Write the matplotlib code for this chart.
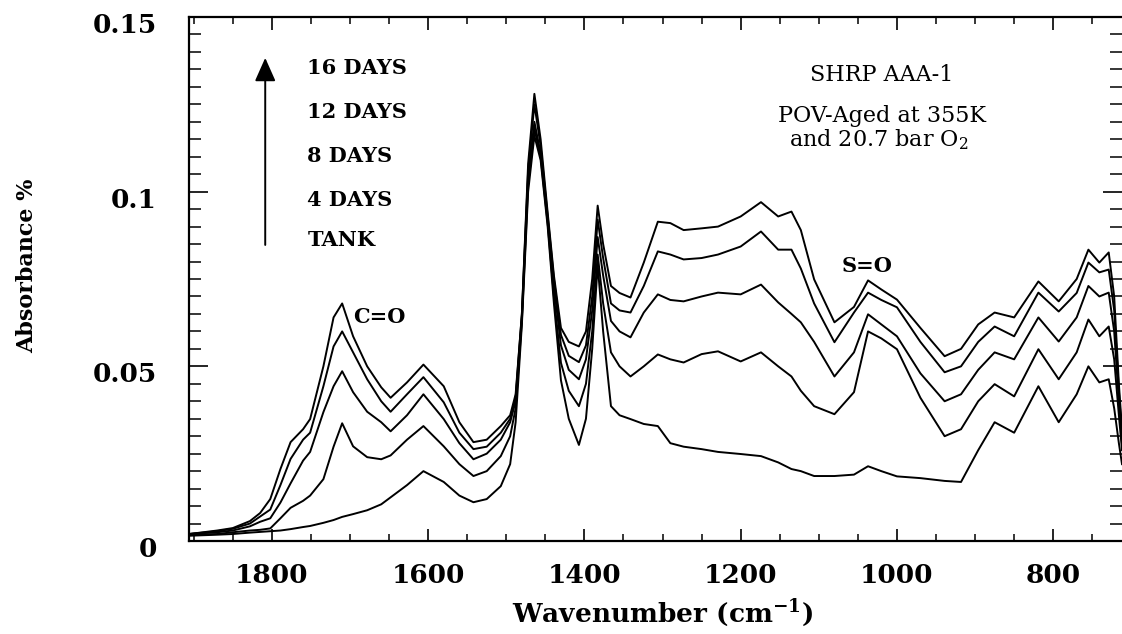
import matplotlib
matplotlib.use("Agg")
import matplotlib.pyplot as plt
from matplotlib.ticker import MultipleLocator
from matplotlib.transforms import ScaledTranslation

plt.rcParams['font.family'] = ['DejaVu Serif']
plt.rcParams['mathtext.fontset'] = 'dejavuserif'

# wavenumber grid (cm-1)
wavenumber = [1906, 1870, 1850, 1828, 1815, 1802, 1789, 1776, 1760, 1751,
              1734, 1721, 1710, 1696, 1678, 1660, 1648, 1627, 1606, 1580,
              1560, 1542, 1525, 1507, 1495, 1488, 1480, 1472, 1464, 1456,
              1447, 1439, 1430, 1420, 1407, 1398, 1390, 1383, 1376, 1366,
              1355, 1341, 1324, 1306, 1290, 1273, 1250, 1229, 1200, 1174,
              1152, 1135, 1123, 1106, 1080, 1055, 1037, 1020, 1000, 970,
              939, 918, 896, 875, 850, 819, 793, 770, 755, 741,
              729, 722, 716, 712]

days16 = [0.002, 0.003, 0.0037, 0.0057, 0.008, 0.012, 0.0206, 0.0283, 0.032, 0.0349,
          0.050, 0.064, 0.068, 0.0586, 0.050, 0.044, 0.041, 0.0454, 0.0505, 0.0443,
          0.034, 0.0283, 0.029, 0.0329, 0.036, 0.042, 0.065, 0.108, 0.128, 0.115,
          0.094, 0.076, 0.061, 0.057, 0.0557, 0.060, 0.075, 0.096, 0.085, 0.073,
          0.071, 0.0697, 0.0797, 0.0914, 0.091, 0.089, 0.0895, 0.090, 0.0929, 0.097,
          0.0929, 0.0943, 0.089, 0.0749, 0.0626, 0.067, 0.0746, 0.072, 0.0691, 0.061,
          0.0529, 0.055, 0.062, 0.0654, 0.064, 0.0743, 0.0686, 0.075, 0.0834, 0.0797,
          0.0826, 0.070, 0.045, 0.032]

days12 = [0.002, 0.0028, 0.0035, 0.005, 0.007, 0.009, 0.016, 0.0235, 0.029, 0.031,
          0.0443, 0.0557, 0.060, 0.054, 0.0463, 0.040, 0.037, 0.042, 0.0469, 0.0397,
          0.031, 0.0263, 0.027, 0.031, 0.035, 0.041, 0.065, 0.106, 0.125, 0.113,
          0.093, 0.075, 0.059, 0.053, 0.0512, 0.056, 0.070, 0.092, 0.081, 0.068,
          0.066, 0.0654, 0.073, 0.0829, 0.082, 0.0806, 0.081, 0.082, 0.0843, 0.0886,
          0.0834, 0.0834, 0.078, 0.068, 0.0569, 0.0654, 0.0711, 0.069, 0.0669, 0.057,
          0.0483, 0.050, 0.057, 0.0614, 0.0586, 0.0711, 0.0657, 0.071, 0.0797, 0.0769,
          0.0777, 0.066, 0.043, 0.030]

days8 = [0.002, 0.0025, 0.003, 0.0042, 0.0055, 0.0065, 0.011, 0.0165, 0.023, 0.0255,
         0.0369, 0.0443, 0.0486, 0.0426, 0.037, 0.034, 0.0314, 0.036, 0.042, 0.0349,
         0.028, 0.0234, 0.025, 0.029, 0.034, 0.040, 0.064, 0.104, 0.120, 0.111,
         0.092, 0.073, 0.056, 0.049, 0.0463, 0.052, 0.066, 0.087, 0.076, 0.063,
         0.060, 0.0583, 0.0654, 0.0706, 0.069, 0.0686, 0.070, 0.0711, 0.0706, 0.0734,
         0.0683, 0.065, 0.0626, 0.057, 0.0471, 0.054, 0.0649, 0.062, 0.0586, 0.048,
         0.040, 0.042, 0.049, 0.054, 0.052, 0.064, 0.0571, 0.064, 0.073, 0.070,
         0.0711, 0.060, 0.040, 0.028]

days4 = [0.0018, 0.002, 0.0025, 0.003, 0.0032, 0.0036, 0.0065, 0.0095, 0.0115, 0.013,
         0.0177, 0.027, 0.0337, 0.0271, 0.024, 0.0234, 0.0245, 0.029, 0.0329, 0.0271,
         0.022, 0.0186, 0.020, 0.0243, 0.030, 0.038, 0.063, 0.102, 0.118, 0.110,
         0.091, 0.070, 0.051, 0.043, 0.0386, 0.045, 0.060, 0.082, 0.068, 0.054,
         0.050, 0.0471, 0.050, 0.0534, 0.052, 0.0511, 0.0535, 0.0543, 0.0514, 0.054,
         0.050, 0.0471, 0.043, 0.0386, 0.0363, 0.0426, 0.060, 0.058, 0.0549, 0.041,
         0.030, 0.032, 0.040, 0.0449, 0.0414, 0.0549, 0.0463, 0.054, 0.0634, 0.0586,
         0.0614, 0.052, 0.036, 0.026]

tank = [0.0015, 0.0018, 0.002, 0.0024, 0.0026, 0.0028, 0.003, 0.0034, 0.004, 0.0043,
        0.0052, 0.006, 0.0069, 0.0077, 0.0088, 0.0105, 0.0125, 0.016, 0.020, 0.0169,
        0.013, 0.0111, 0.012, 0.0157, 0.022, 0.034, 0.062, 0.100, 0.116, 0.109,
        0.090, 0.068, 0.046, 0.035, 0.0275, 0.035, 0.055, 0.079, 0.060, 0.0386,
        0.036, 0.0349, 0.0335, 0.0329, 0.028, 0.027, 0.0263, 0.0255, 0.0249, 0.0243,
        0.0225, 0.0206, 0.020, 0.0186, 0.0186, 0.019, 0.0214, 0.020, 0.0185, 0.018,
        0.0172, 0.0169, 0.026, 0.034, 0.031, 0.0443, 0.034, 0.042, 0.050, 0.0454,
        0.0463, 0.038, 0.028, 0.022]

day_labels = ["16 DAYS", "12 DAYS", "8 DAYS", "4 DAYS", "TANK"]

fig = plt.figure(figsize=(11.22, 6.34), dpi=100)
ax = fig.add_axes([189 / 1122, 93 / 634, 933 / 1122, 524 / 634])

for series in [days16, days12, days8, days4, tank]:
    ax.plot(wavenumber, series, color='black', lw=1.4)

ax.set_xlim(1906, 712)
ax.set_ylim(0, 0.15)

# ticks: inward, on all four sides
ax.xaxis.set_major_locator(MultipleLocator(200))
ax.xaxis.set_minor_locator(MultipleLocator(50))
ax.yaxis.set_minor_locator(MultipleLocator(0.005))
ax.set_yticks([0, 0.05, 0.1, 0.15])
ax.set_yticklabels(["0", "0.05", "0.1", "0.15"])
ax.tick_params(axis='x', which='major', direction='in', length=9, width=1.2,
               top=True, pad=16, labelsize=19)
ax.tick_params(axis='x', which='minor', direction='in', length=5, width=1.1, top=True)
ax.tick_params(axis='y', which='major', direction='in', length=14, width=1.2,
               right=True, pad=23, labelsize=19)
ax.tick_params(axis='y', which='minor', direction='in', length=8.5, width=1.1, right=True)
for lab in ax.get_xticklabels() + ax.get_yticklabels():
    lab.set_fontweight('bold')
shift = ScaledTranslation(0, -6 / 100, fig.dpi_scale_trans)
for lab in ax.get_yticklabels():
    lab.set_transform(lab.get_transform() + shift)

for side in ['left', 'bottom', 'top']:
    ax.spines[side].set_linewidth(1.6)
ax.spines['right'].set_visible(False)

ax.set_xlabel(r"Wavenumber (cm$^{\mathbf{-1}}$)", fontsize=19, fontweight='bold', va='center')
ax.xaxis.set_label_coords(0.508, -0.137)
ax.set_ylabel("Absorbance %", fontsize=16, fontweight='bold', va='center')
ax.yaxis.set_label_coords(-0.173, 0.525)

# ageing legend with arrow
label_y = [0.903, 0.819, 0.735, 0.651, 0.574]
for txt, yy in zip(day_labels, label_y):
    ax.text(0.127, yy, txt, transform=ax.transAxes, fontsize=15,
            fontweight='bold', ha='left', va='center')
ax.annotate('', xy=(0.0817, 0.922), xytext=(0.0817, 0.565),
            xycoords='axes fraction', textcoords='axes fraction',
            arrowprops=dict(arrowstyle='-|>,head_length=0.45,head_width=0.2',
                            color='black', lw=1.4, mutation_scale=32,
                            shrinkA=0, shrinkB=0))

ax.text(0.742, 0.889, "SHRP AAA-1", transform=ax.transAxes, fontsize=16,
        ha='center', va='center')
ax.text(0.743, 0.811, "POV-Aged at 355K", transform=ax.transAxes, fontsize=16,
        ha='center', va='center')
ax.text(0.739, 0.765, r"and 20.7 bar O$_{\mathrm{2}}$", transform=ax.transAxes,
        fontsize=16, ha='center', va='center')

ax.text(1696, 0.064, "C=O", fontsize=15, fontweight='bold', ha='left', va='center')
ax.text(1071, 0.0786, "S=O", fontsize=15, fontweight='bold', ha='left', va='center')

fig.savefig("out.png", dpi=100)
